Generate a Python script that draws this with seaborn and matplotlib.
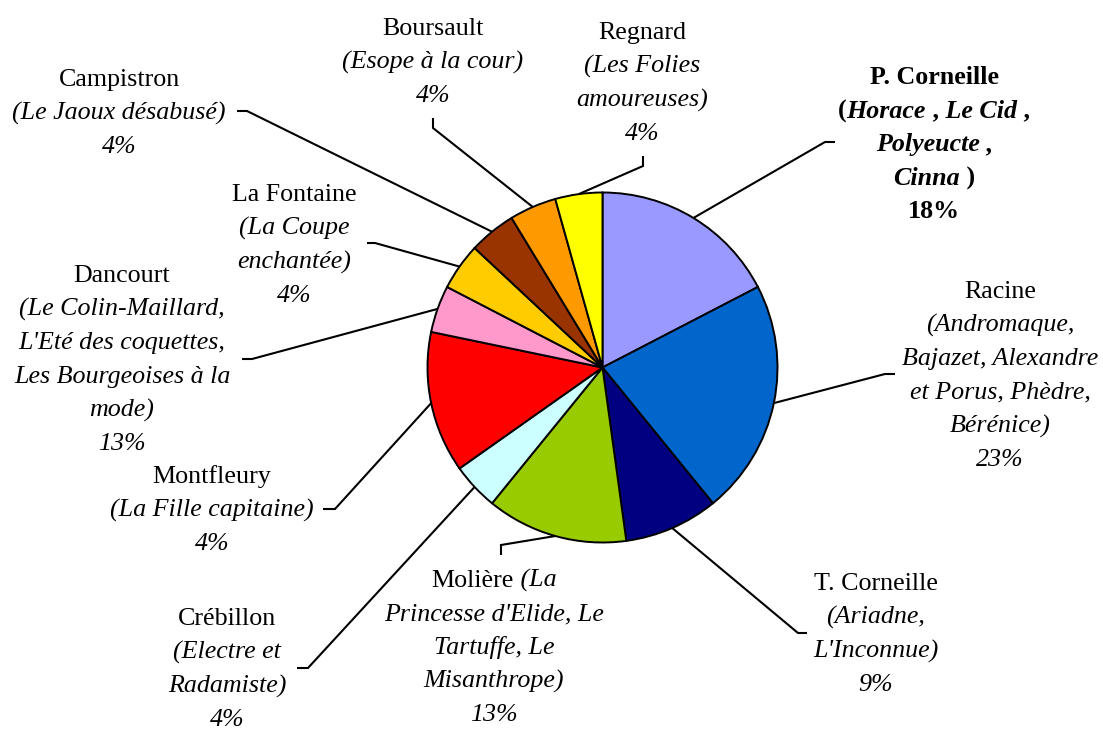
import matplotlib
matplotlib.use("Agg")
import matplotlib.pyplot as plt
import seaborn as sns
import numpy as np

# ---------------- data ----------------
authors = ["P. Corneille", "Racine", "T. Corneille", "Molière", "Crébillon",
           "Dancourt", "Montfleury", "La Fontaine", "Campistron", "Boursault", "Regnard"]
plays = [4, 5, 2, 3, 1, 3, 1, 1, 1, 1, 1]
pct_labels = ["18%", "23%", "9%", "13%", "4%", "13%", "4%", "4%", "4%", "4%", "4%"]
colors = ["#9999FF", "#0066CC", "#000080", "#99CC00", "#CCFFFF",
          "#FF0000", "#FF99CC", "#FFCC00", "#993300", "#FF9900", "#FFFF00"]

# label text: lines of (text, style) segments; n=normal i=italic b=bold bi=bold italic
label_lines = {
    "P. Corneille": [[("P. Corneille", "b")],
                     [("(", "b"), ("Horace", "bi"), (" ,", "b"), (" Le Cid", "bi"), (" ,", "b")],
                     [("Polyeucte", "bi"), (" ,", "b")],
                     [("Cinna", "bi"), (" )", "b")]],
    "Racine": [[("Racine", "n")], [("(Andromaque,", "i")], [("Bajazet, Alexandre", "i")],
               [("et Porus, Phèdre,", "i")], [("Bérénice)", "i")]],
    "T. Corneille": [[("T. Corneille", "n")], [("(Ariadne,", "i")], [("L'Inconnue)", "i")]],
    "Molière": [[("Molière", "n"), (" (La", "i")], [("Princesse d'Elide, Le", "i")],
                [("Tartuffe, Le", "i")], [("Misanthrope)", "i")]],
    "Crébillon": [[("Crébillon", "n")], [("(Electre et", "i")], [("Radamiste)", "i")]],
    "Dancourt": [[("Dancourt", "n")], [("(Le Colin-Maillard,", "i")], [("L'Eté des coquettes,", "i")],
                 [("Les Bourgeoises à la", "i")], [("mode)", "i")]],
    "Montfleury": [[("Montfleury", "n")], [("(La Fille capitaine)", "i")]],
    "La Fontaine": [[("La Fontaine", "n")], [("(La Coupe", "i")], [("enchantée)", "i")]],
    "Campistron": [[("Campistron", "n")], [("(Le Jaoux désabusé)", "i")]],
    "Boursault": [[("Boursault", "n")], [("(Esope à la cour)", "i")]],
    "Regnard": [[("Regnard", "n")], [("(Les Folies", "i")], [("amoureuses)", "i")]],
}
pct_style = {"P. Corneille": "b"}

# ---------------- layout (pixels, origin top-left) ----------------
W, H = 1103, 729
label_pos = {
    "P. Corneille": (934, 84), "Racine": (1000, 298), "T. Corneille": (876, 590),
    "Molière": (494, 587), "Crébillon": (227, 625), "Dancourt": (122, 282),
    "Montfleury": (212, 483), "La Fontaine": (294, 201), "Campistron": (119, 86),
    "Boursault": (433, 35), "Regnard": (642, 39),
}
leader_pts = {
    "P. Corneille": [(835, 142), (825, 142)], "Racine": [(895, 374), (885, 374)],
    "T. Corneille": [(807, 633), (798, 633)], "Molière": [(501, 555), (501, 545)],
    "Crébillon": [(297, 668), (308, 668)], "Dancourt": [(242, 359), (252, 359)],
    "Montfleury": [(323, 509), (335, 509)], "La Fontaine": [(367, 243), (375, 243)],
    "Campistron": [(237, 111), (247, 111)], "Boursault": [(433, 118), (433, 128)],
    "Regnard": [(643, 156), (643, 166)],
}
# the chart's leader lines for Dancourt / Montfleury point to each other's wedge
leader_target = {"Dancourt": "Montfleury", "Montfleury": "Dancourt"}
line_step = 33.6
fsize = 18.7

sns.set_theme(style="white")
plt.rcParams["font.family"] = ["Liberation Serif", "DejaVu Serif"]

fig = plt.figure(figsize=(W / 100, H / 100), dpi=100)
fig.patch.set_facecolor("white")

cx, cy, r = 602.5, 367.5, 175.0
pie_ax = fig.add_axes([(cx - r) / W, (H - cy - r) / H, 2 * r / W, 2 * r / H])
wedges, _ = pie_ax.pie(plays, colors=colors, startangle=90, counterclock=False,
                       radius=1.0, wedgeprops=dict(edgecolor="black", linewidth=1.4))
pie_ax.set_xlim(-1, 1)
pie_ax.set_ylim(-1, 1)
pie_ax.axis("off")

ov = fig.add_axes([0, 0, 1, 1], zorder=5)
ov.set_xlim(0, W)
ov.set_ylim(H, 0)
ov.axis("off")

renderer = fig.canvas.get_renderer()


def style_kw(st):
    return dict(fontstyle="italic" if "i" in st else "normal",
                fontweight="bold" if "b" in st else "normal")


def draw_line(xc, yb, segs):
    texts = []
    for s, st in segs:
        t = ov.text(0, yb, s, fontsize=fsize, ha="left", va="baseline",
                    color="black", **style_kw(st))
        texts.append(t)
    widths = [t.get_window_extent(renderer).width for t in texts]
    x = xc - sum(widths) / 2
    for t, w in zip(texts, widths):
        t.set_x(x)
        x += w


for i, name in enumerate(authors):
    xc, yb = label_pos[name]
    lines = label_lines[name] + [[(pct_labels[i], pct_style.get(name, "i"))]]
    for k, segs in enumerate(lines):
        draw_line(xc, yb + k * line_step, segs)

    # leader line to the wedge's arc midpoint
    target = authors.index(leader_target.get(name, name))
    wdg = wedges[target]
    th = np.deg2rad((wdg.theta1 + wdg.theta2) / 2)
    disp = pie_ax.transData.transform((np.cos(th), np.sin(th)))
    ax_pt = ov.transData.inverted().transform(disp)
    pts = leader_pts[name] + [tuple(ax_pt)]
    xs, ys = zip(*pts)
    ov.plot(xs, ys, color="black", lw=1.5, solid_capstyle="butt", solid_joinstyle="miter")

fig.savefig("out.png", dpi=100, facecolor="white")
